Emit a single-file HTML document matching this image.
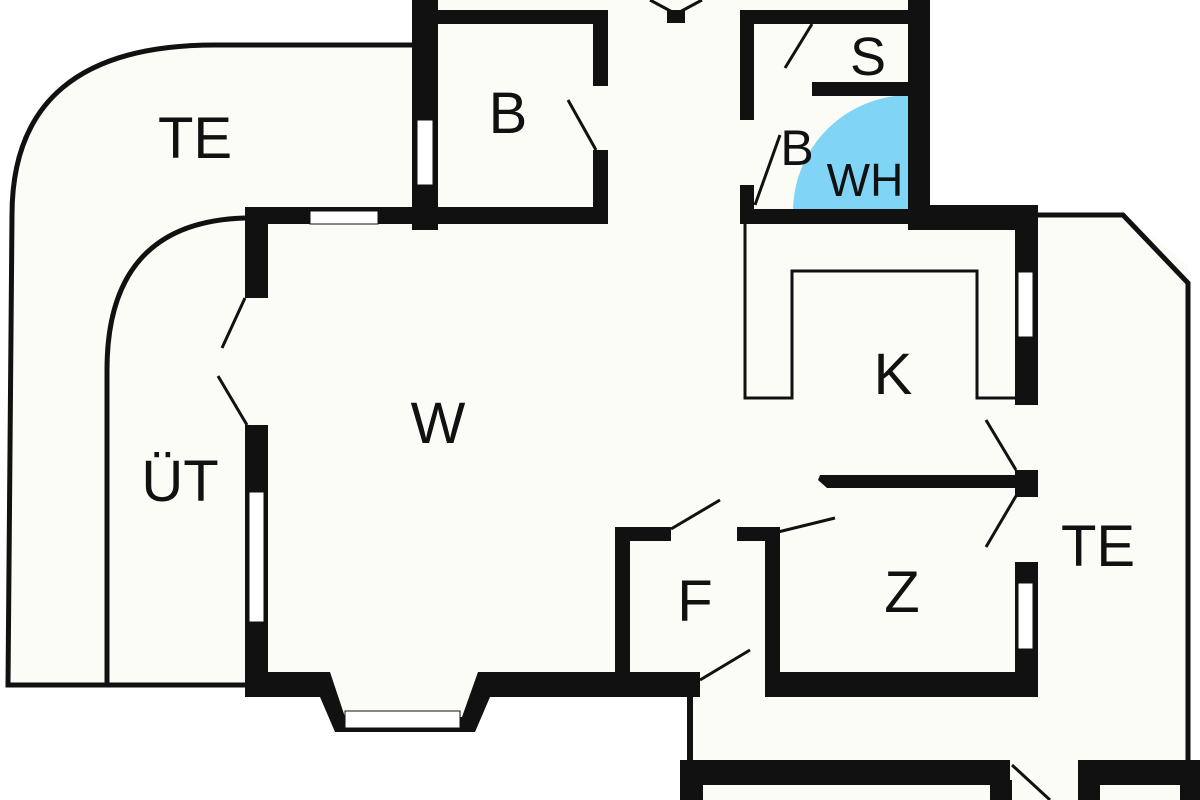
<!DOCTYPE html>
<html><head><meta charset="utf-8"><style>
html,body{margin:0;padding:0;background:#fff;}
svg{display:block}
text{font-family:"Liberation Sans",sans-serif;fill:#111;}
</style></head><body>
<svg width="1200" height="800" viewBox="0 0 1200 800" xmlns="http://www.w3.org/2000/svg">
<rect width="1200" height="800" fill="#fff"/>
<!-- cream fills -->
<path d="M415 45 L215 45 Q10 45 10 215 L10 685 L245 685 L245 207 L415 207 Z" fill="#fcfcf7"/>
<rect x="245" y="45" width="960" height="755" fill="#fcfcf7"/>
<rect x="412" y="0" width="518" height="45" fill="#fcfcf7"/>
<rect x="245" y="695" width="445" height="105" fill="#fff"/>
<polygon points="330,695 345,730 462,730 478,695" fill="#fcfcf7"/>
<rect x="1188" y="0" width="12" height="760" fill="#fff"/>
<polygon points="1038,0 1200,0 1200,275 1125,215 1038,215" fill="#fff"/>
<rect x="930" y="0" width="108" height="205" fill="#fff"/>
<!-- left TE / ÜT outlines -->
<path d="M415 45 L215 45 Q12 45 12 215 L8 685 L245 685" fill="none" stroke="#111" stroke-width="5"/>
<path d="M245 218 Q107 222 107 370 L107 685" fill="none" stroke="#111" stroke-width="5"/>
<!-- right TE outline -->
<path d="M1038 215 L1123 215 L1188 283 L1188 765" fill="none" stroke="#111" stroke-width="5"/>
<!-- WH blue -->
<path d="M910 95 A117 117 0 0 0 793 210 L910 210 Z" fill="#80d4f6"/>
<g fill="#111">
<rect x="412" y="0" width="26" height="230"/>
<rect x="412" y="10" width="196" height="14"/>
<rect x="593" y="10" width="15" height="76"/>
<rect x="593" y="150" width="15" height="73"/>
<rect x="245" y="207" width="363" height="17"/>
<rect x="667" y="10" width="18" height="13"/>
<rect x="740" y="10" width="190" height="14"/>
<rect x="740" y="10" width="14" height="110"/>
<rect x="740" y="185" width="14" height="38"/>
<rect x="908" y="0" width="22" height="230"/>
<rect x="740" y="209" width="190" height="15"/>
<rect x="908" y="205" width="130" height="25"/>
<rect x="812" y="82" width="98" height="14"/>
<rect x="1015" y="205" width="23" height="200"/>
<rect x="1015" y="470" width="23" height="27"/>
<rect x="1015" y="562" width="23" height="135"/>
<polygon points="820,475 1015,475 1015,488 827,488 818,480"/>
<rect x="245" y="207" width="23" height="91"/>
<rect x="245" y="425" width="23" height="270"/>
<polygon points="245,672 330,672 345,717 462,717 478,672 700,672 700,697 490,697 475,732 335,732 320,697 245,697"/>
<rect x="615" y="527" width="15" height="160"/>
<rect x="615" y="527" width="56" height="14"/>
<rect x="737" y="527" width="43" height="14"/>
<rect x="765" y="527" width="15" height="170"/>
<rect x="765" y="672" width="273" height="25"/>
<rect x="687" y="695" width="6" height="70"/>
<rect x="680" y="760" width="330" height="25"/>
<rect x="1078" y="760" width="122" height="25"/>
<rect x="680" y="780" width="23" height="20"/>
<rect x="990" y="780" width="22" height="20"/>
<rect x="1078" y="780" width="22" height="20"/>
<rect x="1180" y="780" width="20" height="20"/>
</g>
<g fill="#fff" stroke="#111" stroke-width="1">
<rect x="417" y="120" width="16" height="65"/>
<rect x="310" y="211" width="68" height="13"/>
<rect x="249" y="492" width="15" height="130"/>
<rect x="345" y="711" width="115" height="17"/>
<rect x="1018" y="272" width="15" height="65"/>
<rect x="1018" y="583" width="15" height="66"/>
</g>
<polyline points="745,224 745,398 792,398 792,271 977,271 977,398 1015,398" fill="none" stroke="#111" stroke-width="3"/>
<g stroke="#111" stroke-width="3" fill="none">
<line x1="596" y1="150" x2="568" y2="100"/>
<line x1="785" y1="68" x2="812" y2="24"/>
<line x1="755" y1="205" x2="780" y2="135"/>
<line x1="676" y1="14" x2="650" y2="0"/>
<line x1="676" y1="14" x2="702" y2="0"/>
<line x1="245" y1="298" x2="222" y2="348"/>
<line x1="218" y1="376" x2="247" y2="425"/>
<line x1="1016" y1="470" x2="986" y2="420"/>
<line x1="1016" y1="496" x2="986" y2="547"/>
<line x1="671" y1="529" x2="720" y2="500"/>
<line x1="778" y1="532" x2="835" y2="518"/>
<line x1="700" y1="680" x2="750" y2="650"/>
<line x1="1012" y1="765" x2="1050" y2="800"/>
</g>
<g font-size="58">
<text x="195" y="158" text-anchor="middle">TE</text>
<text x="508" y="133" text-anchor="middle">B</text>
<text x="868" y="75" text-anchor="middle" font-size="54">S</text>
<text x="797" y="165" text-anchor="middle" font-size="50">B</text>
<text x="865" y="196" text-anchor="middle" font-size="46">WH</text>
<text x="438" y="443" text-anchor="middle">W</text>
<text x="893" y="394" text-anchor="middle">K</text>
<text x="180" y="501" text-anchor="middle">ÜT</text>
<text x="1098" y="566" text-anchor="middle">TE</text>
<text x="695" y="621" text-anchor="middle">F</text>
<text x="902" y="612" text-anchor="middle">Z</text>
</g>
</svg>
</body></html>
